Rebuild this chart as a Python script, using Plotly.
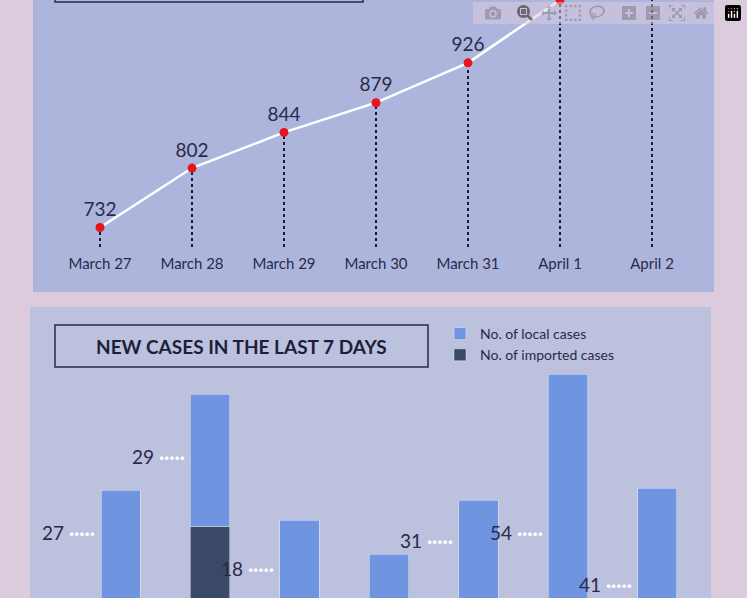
import plotly.graph_objects as go

W, H = 747, 598

dates = ["March 27", "March 28", "March 29", "March 30", "March 31", "April 1", "April 2"]
total_cases = [732, 802, 844, 879, 926, 1000, 1049]

local_cases = [42.5, 33, 35, 26.5, 40, 71.5, 43]
imported_cases = [0, 33.5, 0, 0, 0, 0, 0]
label_values = [27, 29, 18, None, 31, 54, 41]
label_heights = [32, 51, 23, None, 30, 32, 19]

BASE = 709


def px(x, y):
    return x / W, 1 - y / H


fig = go.Figure()

# stems from baseline up to each point
stem_x, stem_y = [], []
for i, v in enumerate(total_cases):
    stem_x += [i, i, None]
    stem_y += [BASE, v, None]
fig.add_trace(go.Scatter(x=stem_x, y=stem_y, mode="lines", showlegend=False,
                         line=dict(color="#1a1a3a", width=2, dash="dot"),
                         xaxis="x", yaxis="y", hoverinfo="skip"))
fig.add_trace(go.Scatter(
    x=list(range(len(dates))), y=total_cases, mode="lines+markers+text",
    text=[str(v) for v in total_cases], textposition="top center",
    textfont=dict(size=19, color="#2a2a4a", family="Lato"),
    line=dict(color="white", width=2.5), marker=dict(color="#e8141c", size=9),
    showlegend=False, cliponaxis=False, xaxis="x", yaxis="y"))

fig.add_trace(go.Bar(x=list(range(7)), y=imported_cases, name="No. of imported cases",
                     marker_color="#3a4a66", width=0.44, xaxis="x2", yaxis="y2"))
fig.add_trace(go.Bar(x=list(range(7)), y=local_cases, name="No. of local cases",
                     marker_color="#7095e0", width=0.44, xaxis="x2", yaxis="y2"))

anns = []
for i, (lv, lh) in enumerate(zip(label_values, label_heights)):
    if lv is None:
        continue
    anns.append(dict(x=i - 0.26, y=lh, xref="x2", yref="y2", xanchor="right",
                     showarrow=False,
                     text=f"{lv} <span style='color:white'><b>·····</b></span>",
                     font=dict(size=19, color="#2a2a4a", family="Lato")))

x0, y0 = px(55, 325)
x1, y1 = px(428, 367)
fig.add_shape(type="rect", xref="paper", yref="paper", x0=x0, y0=y1, x1=x1, y1=y0,
              line=dict(color="#2a2a4a", width=1.5), layer="above")
anns.append(dict(x=(x0 + x1) / 2, y=(y0 + y1) / 2, xref="paper", yref="paper",
                 xanchor="center", yanchor="middle",
                 showarrow=False, text="<b>NEW CASES IN THE LAST 7 DAYS</b>",
                 font=dict(size=19, color="#1e1e3c", family="Lato")))

# panels
a, b = px(33, -20)
c, d = px(714, 292)
fig.add_shape(type="rect", xref="paper", yref="paper", x0=a, y0=d, x1=c, y1=b,
              fillcolor="#adb5dc", line_width=0, layer="below")
a, b = px(30, 307)
c, d = px(711, 620)
fig.add_shape(type="rect", xref="paper", yref="paper", x0=a, y0=d, x1=c, y1=b,
              fillcolor="#bcc1dd", line_width=0, layer="below")
a, b = px(55, -40)
c, d = px(363, 2)
fig.add_shape(type="rect", xref="paper", yref="paper", x0=a, y0=d, x1=c, y1=b,
              line=dict(color="#2a2a4a", width=1.5))

fig.update_layout(
    width=W, height=H, margin=dict(l=0, r=0, t=0, b=0),
    paper_bgcolor="#dccbdd", plot_bgcolor="rgba(0,0,0,0)",
    barmode="stack", annotations=anns,
    font=dict(family="Lato", color="#2a2a4a"),
    xaxis=dict(domain=[54 / W, 698 / W], range=[-0.5, 6.5], tickvals=list(range(7)),
               ticktext=dates, showgrid=False, zeroline=False, showline=False,
               tickfont=dict(size=15), ticks="outside", ticklen=3, tickcolor="rgba(0,0,0,0)"),
    yaxis=dict(domain=[1 - 247 / H, 1], range=[BASE, 1000], visible=False),
    xaxis2=dict(domain=[76 / W, 702 / W], range=[-0.5, 6.5], visible=False),
    yaxis2=dict(domain=[0, 0.5], range=[15.5, 15.5 + 299 / 4], visible=False),
    legend=dict(x=440 / W, y=1 - 318 / H, xanchor="left", yanchor="top",
                traceorder="reversed", bgcolor="rgba(0,0,0,0)",
                font=dict(size=14, color="#2a2a4a"), itemwidth=30, tracegroupgap=8),
)

fig.write_html("out.html", post_script="document.body.style.margin='0';")
